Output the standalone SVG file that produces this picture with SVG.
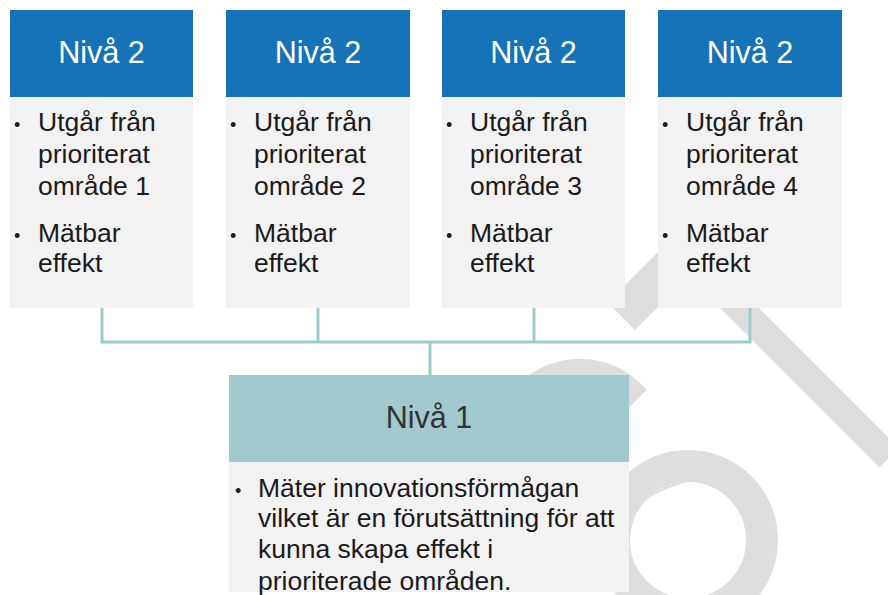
<svg xmlns="http://www.w3.org/2000/svg" width="888" height="595" viewBox="0 0 888 595">
<style>
.hd{fill:#1673B8}
.bd{fill:#F2F2F2}
.hd1{fill:#A0CACD}
.wm{fill:#DEDEDE}
.ht{font-family:"Liberation Sans",Arial,sans-serif;font-size:30.5px;fill:#FFFFFF;text-anchor:middle}
.ht1{font-family:"Liberation Sans",Arial,sans-serif;font-size:30.5px;fill:#333333;text-anchor:middle}
.bt{font-family:"Liberation Sans",Arial,sans-serif;font-size:26.5px;fill:#1A1A1A}
.bu{font-family:"Liberation Sans",Arial,sans-serif;font-size:18px;fill:#1A1A1A}
.cn{fill:none;stroke:#9DCBCD;stroke-width:3}
</style>
<rect width="888" height="595" fill="#FFFFFF"/>
<g id="watermark">
<polygon class="wm" points="681,269 700.5,249.5 899,448 879.5,467.5"/>
<polygon class="wm" points="607.5,302.5 635,330 692.5,272.5 665,245"/>
<path class="wm" d="M493,446 A87,87 0 0 1 646.7,390 L621.75,414.95 A52,52 0 0 0 528,446 Z"/>
<circle cx="688" cy="540" r="74" fill="none" stroke="#DEDEDE" stroke-width="32"/>
<path class="wm" d="M629,513 Q655,490 688,482 A58,58 0 0 0 630,540 Z"/>
</g>
<g id="connectors">
<path class="cn" d="M102,308 V342 M318,308 V342 M534,308 V342 M750,308 V342 M100.5,342 H751.5 M430,342 V376"/>
</g>
<g id="node-niva2-1">
<rect class="hd" x="10" y="10" width="183" height="87"/>
<rect class="bd" x="10" y="97" width="183" height="211"/>
<text class="ht" x="101.5" y="63">Nivå 2</text>
<text class="bu" x="14" y="131">•</text>
<text class="bt" x="38" y="131">Utgår från</text>
<text class="bt" x="38" y="163">prioriterat</text>
<text class="bt" x="38" y="195">område 1</text>
<text class="bu" x="14" y="242">•</text>
<text class="bt" x="38" y="242">Mätbar</text>
<text class="bt" x="38" y="272">effekt</text>
</g>
<g id="node-niva2-2">
<rect class="hd" x="226" y="10" width="184" height="87"/>
<rect class="bd" x="226" y="97" width="184" height="211"/>
<text class="ht" x="318" y="63">Nivå 2</text>
<text class="bu" x="230" y="131">•</text>
<text class="bt" x="254" y="131">Utgår från</text>
<text class="bt" x="254" y="163">prioriterat</text>
<text class="bt" x="254" y="195">område 2</text>
<text class="bu" x="230" y="242">•</text>
<text class="bt" x="254" y="242">Mätbar</text>
<text class="bt" x="254" y="272">effekt</text>
</g>
<g id="node-niva2-3">
<rect class="hd" x="442" y="10" width="183" height="87"/>
<rect class="bd" x="442" y="97" width="183" height="211"/>
<text class="ht" x="533.5" y="63">Nivå 2</text>
<text class="bu" x="446" y="131">•</text>
<text class="bt" x="470" y="131">Utgår från</text>
<text class="bt" x="470" y="163">prioriterat</text>
<text class="bt" x="470" y="195">område 3</text>
<text class="bu" x="446" y="242">•</text>
<text class="bt" x="470" y="242">Mätbar</text>
<text class="bt" x="470" y="272">effekt</text>
</g>
<g id="node-niva2-4">
<rect class="hd" x="658" y="10" width="184" height="87"/>
<rect class="bd" x="658" y="97" width="184" height="211"/>
<text class="ht" x="750" y="63">Nivå 2</text>
<text class="bu" x="662" y="131">•</text>
<text class="bt" x="686" y="131">Utgår från</text>
<text class="bt" x="686" y="163">prioriterat</text>
<text class="bt" x="686" y="195">område 4</text>
<text class="bu" x="662" y="242">•</text>
<text class="bt" x="686" y="242">Mätbar</text>
<text class="bt" x="686" y="272">effekt</text>
</g>
<g id="node-niva1">
<rect class="hd1" x="229" y="375" width="400" height="87"/>
<rect class="bd" x="229" y="462" width="400" height="130"/>
<text class="ht1" x="429" y="428">Nivå 1</text>
<text class="bu" x="235" y="497">•</text>
<text class="bt" x="258" y="497">Mäter innovationsförmågan</text>
<text class="bt" x="258" y="527">vilket är en förutsättning för att</text>
<text class="bt" x="258" y="558">kunna skapa effekt i</text>
<text class="bt" x="258" y="590">prioriterade områden.</text>
</g>
</svg>
